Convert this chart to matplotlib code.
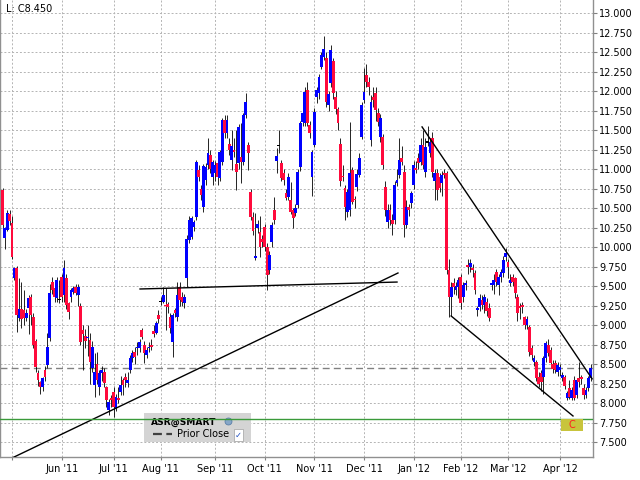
import matplotlib
matplotlib.use('Agg')
import matplotlib.pyplot as plt
import numpy as np
import pandas as pd
from matplotlib.patches import Rectangle
from matplotlib.transforms import blended_transform_factory

# exchange holidays in the period (trading-day axis)
holidays = ['2011-05-30', '2011-07-04', '2011-09-05', '2011-11-24', '2011-12-26',
            '2012-01-02', '2012-01-16', '2012-02-20', '2012-04-06']

opens = [10.73, 10.12, 10.22, 10.42, 10.31, 9.60, 9.73, 9.09, 9.20, 9.19,
         9.09, 9.22, 9.36, 9.10, 8.80, 8.38, 8.27, 8.20, 8.42, 8.49,
         8.83, 9.55, 9.48, 9.35, 9.33, 9.62, 9.38, 9.60, 9.28, 9.36,
         9.42, 9.49, 9.38, 9.25, 8.94, 8.86, 8.83, 8.81, 8.45, 8.23,
         8.50, 8.20, 8.38, 8.40, 8.20, 7.91, 8.06, 8.14, 7.93, 8.06,
         8.14, 8.30, 8.33, 8.26, 8.42, 8.58, 8.65, 8.70, 8.70, 8.93,
         8.74, 8.62, 8.70, 8.74, 8.92, 8.90, 9.13, 9.30, 9.30, 9.26,
         9.27, 9.10, 8.78, 9.19, 9.10, 9.49, 9.36, 9.28, 9.60, 10.09,
         10.13, 10.26, 10.38, 10.99, 10.74, 10.51, 10.86, 11.05, 11.18, 10.90,
         10.95, 11.08, 10.88, 11.09, 11.63, 11.46, 11.32, 11.12, 11.24, 11.06,
         11.08, 11.15, 11.09, 11.69, 11.31, 10.70, 10.38, 9.86, 10.24, 10.19,
         10.10, 10.26, 10.00, 9.70, 10.06, 10.47, 11.10, 11.30, 11.08, 10.95,
         10.69, 10.64, 10.60, 10.47, 10.44, 10.54, 11.03, 11.60, 11.59, 12.01,
         11.57, 10.90, 11.31, 11.92, 11.97, 12.31, 12.44, 12.42, 11.82, 12.10,
         12.38, 11.92, 11.77, 11.32, 10.91, 10.76, 10.45, 10.47, 10.99, 10.62,
         10.77, 10.92, 11.41, 11.89, 12.21, 12.12, 11.37, 11.92, 11.97, 11.72,
         11.41, 11.41, 10.77, 10.32, 10.48, 10.35, 10.35, 10.82, 10.92, 11.14,
         10.96, 10.28, 10.51, 10.56, 10.80, 11.01, 11.14, 11.09, 11.31, 10.96,
         11.35, 11.21, 11.40, 10.85, 10.95, 10.90, 10.82, 10.95, 10.95, 9.71,
         9.36, 9.54, 9.45, 9.49, 9.62, 9.36, 9.51, 9.77, 9.74, 9.73,
         9.67, 9.19, 9.23, 9.32, 9.26, 9.30, 9.22, 9.51, 9.51, 9.68,
         9.51, 9.62, 9.67, 9.87, 9.81, 9.54, 9.62, 9.60, 9.36, 9.24,
         9.26, 9.10, 9.00, 8.97, 8.71, 8.52, 8.52, 8.34, 8.38, 8.33,
         8.58, 8.74, 8.68, 8.50, 8.51, 8.40, 8.42, 8.32, 8.34, 8.06,
         8.19, 8.06, 8.30, 8.10, 8.32, 8.33, 8.19, 8.10, 8.19, 8.32]

highs = [10.76, 10.26, 10.47, 10.48, 10.40, 9.75, 9.76, 9.60, 9.55, 9.45,
         9.20, 9.38, 9.40, 9.15, 8.82, 8.42, 8.28, 8.34, 8.48, 8.90,
         9.52, 9.62, 9.50, 9.62, 9.58, 9.65, 9.83, 9.65, 9.30, 9.48,
         9.50, 9.52, 9.52, 9.28, 9.00, 8.95, 9.00, 8.90, 8.80, 8.64,
         8.65, 8.42, 8.48, 8.45, 8.22, 8.05, 8.10, 8.20, 8.12, 8.20,
         8.35, 8.32, 8.38, 8.40, 8.62, 8.68, 8.72, 8.78, 8.82, 8.96,
         8.80, 8.72, 8.78, 8.82, 9.00, 9.05, 9.19, 9.36, 9.49, 9.47,
         9.30, 9.15, 9.15, 9.22, 9.55, 9.55, 9.42, 9.40, 10.16, 10.40,
         10.40, 10.35, 11.12, 11.05, 10.80, 11.06, 11.08, 11.40, 11.25, 11.12,
         11.10, 11.14, 11.25, 11.66, 11.69, 11.69, 11.40, 11.50, 11.40, 11.50,
         11.58, 11.59, 11.72, 11.98, 11.35, 10.75, 10.45, 10.44, 10.35, 10.40,
         10.15, 10.30, 10.05, 9.95, 10.32, 10.64, 11.27, 11.50, 11.12, 11.00,
         10.75, 10.95, 10.84, 10.50, 10.55, 11.00, 11.62, 11.80, 12.05, 12.12,
         11.62, 11.25, 11.78, 12.05, 12.22, 12.50, 12.70, 12.50, 12.00, 12.59,
         12.42, 12.00, 11.80, 11.40, 11.05, 10.80, 10.75, 11.60, 11.02, 10.66,
         11.00, 11.20, 11.86, 12.30, 12.35, 12.18, 11.95, 12.05, 12.05, 11.78,
         11.70, 11.45, 10.85, 10.55, 10.55, 10.42, 10.85, 11.00, 11.40, 11.30,
         11.05, 10.60, 10.55, 10.72, 11.10, 11.10, 11.20, 11.40, 11.50, 11.40,
         11.55, 11.40, 11.48, 11.00, 11.00, 10.95, 10.98, 11.00, 10.98, 9.85,
         9.55, 9.60, 9.55, 9.62, 9.66, 9.55, 9.58, 9.85, 9.85, 9.78,
         9.70, 9.25, 9.40, 9.38, 9.40, 9.35, 9.28, 9.56, 9.65, 9.72,
         9.66, 9.72, 9.88, 9.99, 9.85, 9.65, 9.66, 9.62, 9.40, 9.28,
         9.30, 9.12, 9.12, 9.00, 8.75, 8.62, 8.55, 8.40, 8.42, 8.60,
         8.80, 8.82, 8.72, 8.55, 8.55, 8.52, 8.50, 8.40, 8.36, 8.16,
         8.30, 8.20, 8.35, 8.32, 8.52, 8.36, 8.25, 8.20, 8.35, 8.50]

lows = [10.24, 9.98, 10.20, 10.28, 9.85, 9.58, 8.91, 9.05, 8.96, 9.00,
        9.05, 8.88, 9.00, 8.70, 8.40, 8.22, 8.12, 8.15, 8.28, 8.45,
        8.80, 9.40, 9.30, 9.30, 9.28, 9.30, 9.30, 9.20, 9.08, 9.30,
        9.40, 9.38, 9.25, 8.74, 8.42, 8.70, 8.60, 8.25, 8.40, 8.08,
        8.25, 8.10, 8.28, 8.20, 7.95, 7.85, 7.95, 7.82, 7.90, 8.00,
        8.10, 8.10, 8.20, 8.20, 8.38, 8.52, 8.50, 8.62, 8.66, 8.82,
        8.51, 8.58, 8.65, 8.68, 8.85, 8.88, 9.02, 9.26, 9.28, 8.94,
        9.15, 8.90, 8.59, 9.10, 9.05, 9.25, 9.25, 9.22, 9.49, 10.05,
        10.10, 10.20, 10.35, 10.85, 10.60, 10.45, 10.80, 11.00, 10.95, 10.80,
        10.85, 10.80, 10.85, 11.05, 11.40, 11.40, 11.18, 10.99, 11.15, 10.73,
        11.00, 10.82, 11.05, 11.65, 10.99, 10.35, 10.15, 9.84, 10.18, 9.87,
        10.00, 9.95, 9.45, 9.65, 10.00, 10.30, 10.95, 11.20, 10.85, 10.80,
        10.60, 10.60, 10.42, 10.25, 10.40, 10.50, 10.98, 11.55, 11.55, 11.55,
        11.40, 10.65, 11.28, 11.85, 11.90, 12.28, 12.40, 11.80, 11.75, 12.05,
        11.90, 11.70, 11.50, 10.78, 10.85, 10.35, 10.38, 10.40, 10.55, 10.50,
        10.72, 10.90, 11.38, 11.85, 12.05, 11.95, 11.30, 11.80, 11.62, 11.55,
        11.35, 11.00, 10.40, 10.25, 10.28, 10.15, 10.30, 10.78, 10.88, 11.05,
        10.13, 10.25, 10.40, 10.50, 10.75, 10.95, 11.00, 11.05, 11.00, 10.90,
        11.30, 11.15, 10.90, 10.60, 10.60, 10.70, 10.65, 10.88, 9.65, 9.10,
        9.12, 9.40, 9.38, 9.35, 9.20, 9.30, 9.45, 9.65, 9.68, 9.62,
        9.40, 9.12, 9.18, 9.20, 9.15, 9.12, 9.05, 9.45, 9.40, 9.50,
        9.38, 9.55, 9.62, 9.82, 9.60, 9.50, 9.50, 9.35, 9.05, 9.08,
        9.15, 8.95, 8.95, 8.60, 8.55, 8.48, 8.28, 8.20, 8.15, 8.12,
        8.52, 8.60, 8.45, 8.38, 8.38, 8.35, 8.35, 8.28, 8.18, 8.04,
        8.05, 8.04, 8.04, 8.06, 8.20, 8.25, 8.05, 8.06, 8.15, 8.28]

closes = [10.28, 10.24, 10.44, 10.33, 9.87, 9.73, 9.13, 9.21, 9.08, 9.09,
          9.15, 9.35, 9.13, 8.74, 8.46, 8.30, 8.20, 8.32, 8.33, 8.72,
          9.41, 9.45, 9.36, 9.58, 9.33, 9.36, 9.73, 9.26, 9.17, 9.45,
          9.48, 9.41, 9.49, 8.78, 8.88, 8.80, 8.85, 8.53, 8.72, 8.40,
          8.30, 8.38, 8.42, 8.26, 8.04, 8.01, 8.04, 7.95, 8.08, 8.04,
          8.23, 8.23, 8.30, 8.30, 8.58, 8.64, 8.59, 8.72, 8.78, 8.85,
          8.64, 8.68, 8.72, 8.72, 8.89, 9.02, 9.08, 9.30, 9.39, 9.24,
          9.23, 8.96, 9.13, 9.15, 9.38, 9.32, 9.30, 9.36, 10.10, 10.35,
          10.37, 10.32, 11.09, 10.90, 10.67, 11.04, 11.03, 11.21, 11.00, 11.09,
          11.05, 10.90, 11.22, 11.63, 11.46, 11.63, 11.24, 11.30, 11.22, 10.96,
          11.54, 11.09, 11.69, 11.86, 11.20, 10.38, 10.20, 9.88, 10.30, 10.00,
          10.06, 10.00, 9.64, 9.90, 10.28, 10.35, 11.17, 11.30, 10.89, 10.86,
          10.63, 10.90, 10.45, 10.37, 10.50, 10.96, 11.59, 11.72, 11.99, 11.59,
          11.46, 11.22, 11.73, 12.01, 12.18, 12.46, 12.54, 11.86, 11.96, 12.53,
          11.97, 11.77, 11.59, 10.85, 10.90, 10.51, 10.71, 10.95, 10.58, 10.60,
          10.94, 11.14, 11.82, 11.99, 12.12, 12.05, 11.86, 11.88, 11.76, 11.60,
          11.65, 11.05, 10.47, 10.47, 10.35, 10.30, 10.80, 10.86, 11.12, 11.09,
          10.28, 10.51, 10.47, 10.69, 11.05, 10.99, 11.08, 11.31, 11.05, 11.28,
          11.35, 11.35, 10.96, 10.95, 10.73, 10.76, 10.92, 10.92, 9.71, 9.36,
          9.49, 9.49, 9.50, 9.58, 9.28, 9.51, 9.54, 9.74, 9.80, 9.71,
          9.45, 9.22, 9.35, 9.26, 9.36, 9.18, 9.09, 9.54, 9.58, 9.55,
          9.62, 9.68, 9.83, 9.92, 9.74, 9.58, 9.55, 9.41, 9.15, 9.22,
          9.23, 9.00, 9.08, 8.65, 8.62, 8.58, 8.32, 8.25, 8.27, 8.58,
          8.77, 8.64, 8.51, 8.44, 8.42, 8.49, 8.46, 8.36, 8.22, 8.13,
          8.08, 8.17, 8.06, 8.30, 8.27, 8.31, 8.10, 8.17, 8.32, 8.45]

# drawn trend lines: (start index, start price), (end index, end price)
trend_lines = [((4.0, 7.295), (167.4, 9.667)),
               ((58.2, 9.462), (167.0, 9.551)),
               ((177.6, 11.54), (249.6, 8.31)),
               ((189.9, 9.116), (241.5, 7.834))]

prior_close = 8.45
alert_level = 7.795
last_label = 'L: C8.450'
symbol = 'ASR@SMART'

UP = '#0000ff'
DOWN = '#ff0a3c'

n = len(closes)
dates = pd.bdate_range(start='2011-04-26', periods=n, freq='C', holidays=holidays)
o = np.array(opens)
c = np.array(closes)
h = np.maximum(np.array(highs), np.maximum(o, c))
lo = np.minimum(np.array(lows), np.minimum(o, c))
x = np.arange(n)

fig = plt.figure(figsize=(6.4, 4.8), dpi=100)
ax = fig.add_axes([0, 23 / 480, 593 / 640, 457 / 480])

# candles: thin black wicks, coloured bodies
ax.vlines(x, lo, h, color='black', linewidth=0.6, zorder=3)
body = np.abs(c - o)
doji = body < 0.005
height = np.where(doji, 0.02, body)
bottom = np.where(doji, o - 0.01, np.minimum(o, c))
colors = np.where(doji, 'black', np.where(c > o, UP, DOWN))
ax.bar(x, height, bottom=bottom, width=1.2, color=colors, linewidth=0, zorder=4)

# trend lines
for (x0, y0), (x1, y1) in trend_lines:
    ax.plot([x0, x1], [y0, y1], color='black', linewidth=1.0, zorder=5)

ax.axhline(prior_close, color='#808080', linestyle=(0, (5, 3)), linewidth=1.0, zorder=2)

# month ticks on the trading-day axis
month_idx = [i for i in range(1, n) if dates[i].month != dates[i - 1].month]
month_lab = [dates[i].strftime("%b '%y") for i in month_idx]
month_lab[0] = ''
ax.set_xticks(month_idx)
ax.set_xticklabels(month_lab)
ax.set_xlim(-1.08, 249.97)

ax.set_ylim(7.308, 13.167)
ax.set_yticks(np.arange(7.5, 13.01, 0.25))
ax.set_yticklabels([f'{v:.3f}' for v in np.arange(7.5, 13.01, 0.25)])
ax.yaxis.tick_right()

ax.grid(True, color='#b4b4b4', linestyle=(0, (2, 2)), linewidth=0.7, zorder=0)
ax.set_axisbelow(True)
ax.tick_params(axis='y', length=3, pad=1.5, labelsize=7, color='#808080')
ax.tick_params(axis='x', length=2.5, pad=2.5, labelsize=7, color='#808080')
ax.spines['top'].set_visible(False)
for s in ['left', 'right', 'bottom']:
    ax.spines[s].set_color('#909090')
    ax.spines[s].set_linewidth(1.0)

# legend box
F = fig.transFigure
ax.add_patch(Rectangle((144 / 640, 1 - 442 / 480), 107 / 640, 29 / 480, transform=F,
                       facecolor='#d4d4d4', edgecolor='none', zorder=6))
ax.text(151 / 640, 1 - 422 / 480, symbol, transform=F, fontsize=6.6, fontweight='bold',
        va='center', ha='left', zorder=7)
ax.plot([228 / 640], [1 - 421 / 480], 'o', ms=5, mfc='#86a6c8', mec='#5a7fa8', mew=0.6,
        transform=F, zorder=7)
ax.plot([153 / 640, 172 / 640], [1 - 434 / 480] * 2, color='#404040', linewidth=1.6,
        linestyle=(0, (4, 2)), transform=F, zorder=7)
ax.text(177 / 640, 1 - 434 / 480, 'Prior Close', transform=F, fontsize=7,
        va='center', ha='left', zorder=7)
ax.text(238.5 / 640, 1 - 435 / 480, '\u2713', transform=F, fontsize=6, color='#2050c0',
        va='center', ha='center', zorder=7,
        bbox=dict(boxstyle='square,pad=0.15', fc='white', ec='#a0a0a0', lw=0.5))

# alert level line with label
ax.axhline(alert_level, color='#3a9a3a', linewidth=1.0, zorder=8)
bt = blended_transform_factory(ax.transAxes, ax.transData)
ax.add_patch(Rectangle((561 / 593, alert_level - 0.155), 22 / 593, 0.155, transform=bt,
                       facecolor='#c8c43c', edgecolor='none', zorder=8))
ax.text(572 / 593, alert_level - 0.078, 'C', transform=bt, color='#ff2020', fontsize=7,
        ha='center', va='center', zorder=9)

fig.text(6 / 640, 1 - 9.5 / 480, last_label, fontsize=7, va='center', ha='left')

fig.savefig('out.png', dpi=100)
